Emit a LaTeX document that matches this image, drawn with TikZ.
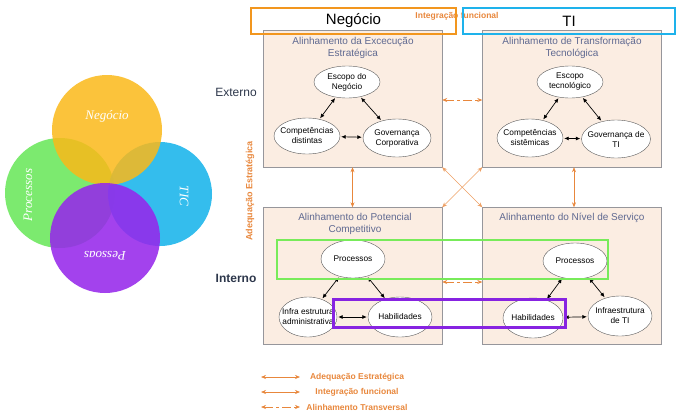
\documentclass[tikz,border=0pt]{standalone}
\usepackage{fontspec}
\setmainfont{Liberation Sans}
\newfontfamily\vennfont{Liberation Serif}
\usepackage{tikz}
\usetikzlibrary{shapes.geometric, arrows.meta, positioning}

\definecolor{laranja}{RGB}{242,150,30}
\definecolor{azulti}{RGB}{30,178,235}
\definecolor{pessego}{RGB}{251,237,226}
\definecolor{cinzaborda}{RGB}{150,150,155}
\definecolor{titcor}{RGB}{95,105,145}
\definecolor{setalar}{RGB}{232,135,60}
\definecolor{verdecl}{RGB}{120,235,90}
\definecolor{roxo}{RGB}{135,35,225}
\definecolor{cneg}{RGB}{250,185,25}
\definecolor{cproc}{RGB}{110,232,95}
\definecolor{ctic}{RGB}{30,182,235}
\definecolor{cpes}{RGB}{150,40,235}
\definecolor{rotulo}{RGB}{45,55,75}

\begin{document}
\begin{tikzpicture}[x=1pt, y=-1pt,
	bloco/.style={draw=cinzaborda, fill=pessego, minimum width=179pt, minimum height=137pt, inner sep=0pt},
	titulo/.style={text=titcor, font=\fontsize{10}{12.5}\selectfont, align=center, inner sep=1pt},
	elip/.style={ellipse, draw=black!65, fill=white, font=\fontsize{8.3}{10}\selectfont, align=center, inner xsep=-4pt, inner ysep=0pt, minimum width=66pt, minimum height=36pt},
	seta/.style={{Latex[length=4.5pt,width=4pt]}-{Latex[length=4.5pt,width=4pt]}, line width=0.7pt, shorten <=1pt, shorten >=1pt},
	setaL/.style={{Stealth[length=5pt,width=4pt]}-{Stealth[length=5pt,width=4pt]}, setalar, line width=0.6pt},
	tracos/.style={dash pattern=on 9pt off 3pt on 3pt off 3pt},
	legenda/.style={text=setalar, font=\bfseries\fontsize{8.5}{9}\selectfont},
	venn/.style={text=white, font=\vennfont\itshape\fontsize{13}{14}\selectfont},
	cabeca/.style={line width=2.6pt, inner sep=0pt, minimum height=26pt, font=\fontsize{15}{16}\selectfont}]
	\useasboundingbox (0,0) rectangle (679,415);

	% diagrama de Venn
	\fill[cproc, opacity=0.9] (60,193) circle[radius=55pt];
	\fill[ctic, opacity=0.9] (160,194) circle[radius=52pt];
	\fill[cneg, opacity=0.85] (107,130) circle[radius=55pt];
	\fill[cpes, opacity=0.88] (105,238) circle[radius=55pt];
	\node[venn] at (107,116) (vneg){Negócio};
	\node[venn, rotate=90] at (28,195) (vproc){Processos};
	\node[venn, rotate=-90] at (184,196) (vtic){TIC};
	\node[venn, rotate=180] at (105,256) (vpes){Pessoas};

	% quadrantes
	\node[bloco] at (352.5,98.5) (ee){};
	\node[bloco] at (572,98.5) (tt){};
	\node[bloco] at (352.5,276) (pc){};
	\node[bloco] at (572,276) (ns){};
	\node[titulo, anchor=north] at (353,36) (tee){Alinhamento da Excecução\\Estratégica};
	\node[titulo, anchor=north] at (572,36) (ttt){Alinhamento de Transformação\\Tecnológica};
	\node[titulo, anchor=north] at (355,212) (tpc){Alinhamento do Potencial\\Competitivo};
	\node[titulo, anchor=north] at (572,212) (tns){Alinhamento do Nível de Serviço};

	\node[text=rotulo, font=\fontsize{12}{13}\selectfont] at (236,92) (ext){Externo};
	\node[text=rotulo, font=\bfseries\fontsize{12}{13}\selectfont] at (236,278) (int){Interno};
	\node[legenda, font=\bfseries\fontsize{9}{10}\selectfont, rotate=90] at (250,191) (adeq){Adequação Estratégica};

	% elipses
	\node[elip, minimum height=32pt] at (347,82) (escN){Escopo do\\Negócio};
	\node[elip] at (307,136) (compD){Competências\\distintas};
	\node[elip, minimum width=68pt, minimum height=38pt] at (397,138) (govC){Governança\\Corporativa};
	\node[elip, minimum height=32pt] at (570,82) (escT){Escopo\\tecnológico};
	\node[elip, minimum height=38pt] at (530,138) (compS){Competências\\sistêmicas};
	\node[elip, minimum height=38pt] at (616,139) (govT){Governança de\\TI};
	\node[elip, minimum width=64pt, minimum height=38pt] at (353,259) (procN){Processos};
	\node[elip, inner xsep=-9pt, minimum width=58pt, minimum height=40pt] at (308,317) (infA){Infra estrutura\\administrativa};
	\node[elip, minimum width=64pt, minimum height=40pt] at (400,317) (habN){Habilidades};
	\node[elip, minimum width=64pt, minimum height=36pt] at (575,261) (procT){Processos};
	\node[elip, minimum width=60pt, minimum height=40pt] at (533,318) (habT){Habilidades};
	\node[elip, minimum width=64pt, minimum height=40pt] at (620,316) (infT){Infraestrutura\\de TI};

	\draw[seta] (escN) -- (compD);
	\draw[seta] (escN) -- (govC);
	\draw[seta] (compD) -- (govC);
	\draw[seta] (escT) -- (compS);
	\draw[seta] (escT) -- (govT);
	\draw[seta] (compS) -- (govT);
	\draw[seta] (procN) -- (infA);
	\draw[seta] (procN) -- (habN);
	\draw[seta] (infA) -- (habN);
	\draw[seta] (procT) -- (habT);
	\draw[seta] (procT) -- (infT);
	\draw[seta] (habT) -- (infT);

	% setas entre quadrantes
	\draw[setaL] (ee.south) -- (pc.north);
	\draw[setaL] ([xshift=2pt]tt.south) -- ([xshift=2pt]ns.north);
	\draw[setaL, line width=0.5pt, setalar!80] (ee.south east) -- (ns.north west);
	\draw[setaL, line width=0.5pt, setalar!80] (tt.south west) -- (pc.north east);
	\draw[setaL, tracos] ([yshift=-1.5pt]ee.east) -- ([yshift=-1.5pt]tt.west);
	\draw[setaL, tracos] ([yshift=-6pt]pc.east) -- ([yshift=-6pt]ns.west);

	% destaques
	\draw[verdecl, line width=2.6pt] (277,240) rectangle (608,279);
	\draw[roxo, line width=3pt] (333,299) rectangle (565,327);

	% cabecalhos
	\node[legenda] at (457,16) (intf){Integração funcional};
	\node[cabeca, draw=laranja, minimum width=205pt] at (353.5,21) (neg){Negócio};
	\node[cabeca, draw=azulti, minimum width=212pt] at (569,21) (ti){TI};

	% legenda
	\coordinate (l1a) at (261,377); \coordinate (l1b) at (300,377);
	\coordinate (l2a) at (261,392); \coordinate (l2b) at (300,392);
	\coordinate (l3a) at (261,407); \coordinate (l3b) at (300,407);
	\draw[setaL] (l1a) -- (l1b);
	\draw[setaL] (l2a) -- (l2b);
	\draw[setaL, tracos] (l3a) -- (l3b);
	\node[legenda] at (357,377) (leg1){Adequação Estratégica};
	\node[legenda] at (357,392) (leg2){Integração funcional};
	\node[legenda] at (357,407) (leg3){Alinhamento Transversal};
\end{tikzpicture}
\end{document}
